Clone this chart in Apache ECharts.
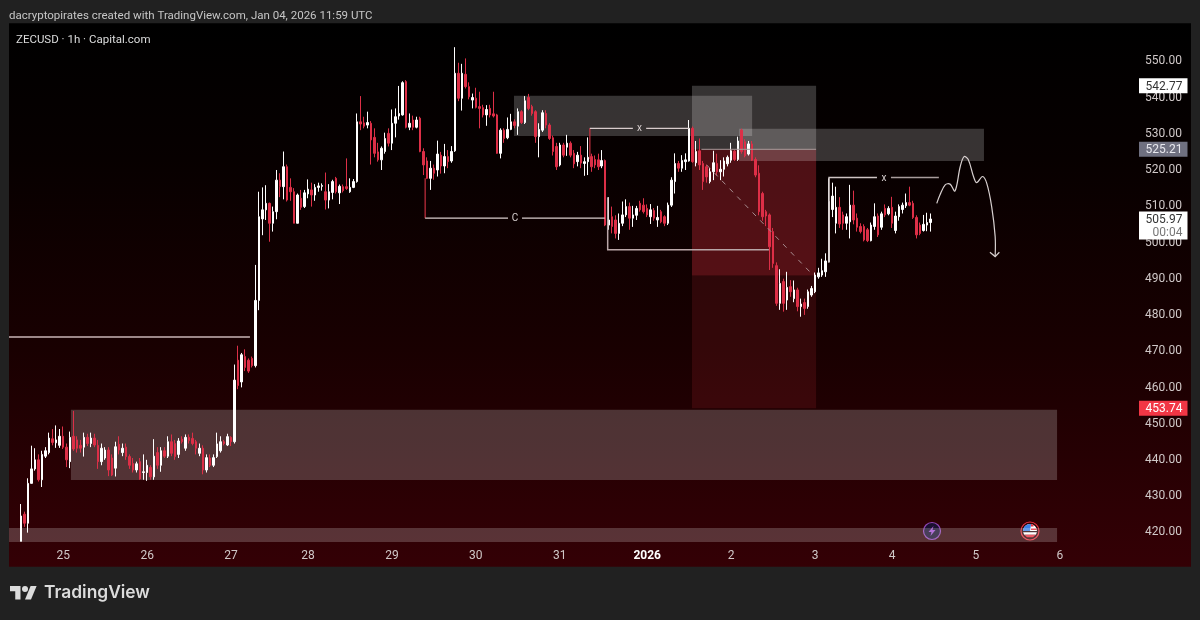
<!DOCTYPE html>
<html lang="en">
<head>
    <meta charset="UTF-8">
    <title>ZECUSD 1h</title>
    <style>
        html, body { margin: 0; padding: 0; background: #212121; }
        #chart { width: 1200px; height: 620px; }
    </style>
</head>
<body>
<div id="chart"></div>
<script src="https://cdn.jsdelivr.net/npm/echarts@6/dist/echarts.min.js"></script>
<script>
    // hour slots on the x axis, the day labels sit on some of them
    var hourSlots = 338;
    var firstCandleSlot = 3;
    var dayTickSlots = [15, 39, 63, 85, 109, 133, 157, 182, 206, 230, 252, 276, 300];
    var dayTickLabels = ['25', '26', '27', '28', '29', '30', '31', '2026', '2', '3', '4', '5', '6'];

    // candles per day, each one [open, close, low, high]
    var dec24 = [[417,424,417,427.3],[424.5,422,421,425.2],[422,433,419.4,434.4],[433,437,433,443.4],[437,439.5,436.5,442.7],[439.5,434,433.5,441],[434,441,432,442],[440.5,442,440,443],[441.5,445.5,441,447],[445.3,444.3,443.5,448],[444.2,445,442.8,449],[443.5,446,442.8,448]];
    var dec25 = [[446,443,442.5,448.7],[443,439.5,437.5,444],[439,445.7,437.2,447.3],[446,442.5,442,453],[445,442.7,441.5,446],[443.5,442.7,441.5,445],[443,445.7,440.4,447],[445.7,444,443.3,446.7],[444,445.5,443,447],[445.5,443.6,443,446.7],[443.5,439,437,445],[439,442.7,438,444],[440,442.2,439.5,443],[442.2,436.7,435,443],[440,435.3,435,441],[437.2,443.1,434.9,444.5],[443.8,442.2,441,446],[441.5,442.7,440.5,444],[443,440.4,439.5,444],[440.4,438,437,441],[438.5,436.7,436,440],[436.7,438.4,436,439],[439,434.2,434,440],[436,436.2,434,441]];
    var dec26 = [[436,438,433.7,439.5],[437.4,434.8,434,438],[434.8,440.5,434,445.2],[441.5,438,437,443],[438,442,436.2,443],[442,440.5,440,443],[440.5,444.5,440,446],[444.5,441.3,440.5,446.5],[444,440.4,439.5,445],[441,444.7,440,445.5],[445.2,444.5,444,446],[442.7,445.7,442,446.5],[445.7,444.8,444,446.5],[445.4,444,443.5,447],[444.5,442.7,441,445],[441.3,442.7,440.5,444],[442.7,436.7,435.5,443.5],[436.7,440.1,436,441],[440,438,437.5,441],[438,440.1,437.5,441],[440.4,443.9,440,447],[442,444.5,441.5,446],[444.5,444,443.5,445],[443.6,445.9,443.3,446.7]];
    var dec27 = [[445.7,444.5,443.3,446],[444.5,461.5,444,465.8],[467,460,459,471],[461,468.5,459.5,469],[468,465,464,470],[467,464,463.5,467.5],[467.5,465.5,465,468],[465.5,483.5,465,493.3],[483.5,506.6,480.8,513.5],[506,508.5,501.5,514.7],[508.5,510.3,505.7,515.3],[510.3,504.8,499.7,510.5],[504.8,508,502.5,509.4],[508,516.7,505.9,519.5],[516.7,514.9,512,518.6],[514.9,520.4,511.4,524.6],[520.4,511.2,510.8,521],[514.7,513.5,511,517.2],[513.5,504.8,504.8,514.5],[504.8,512.6,504.8,513],[511.7,509.2,508.5,514],[509.4,513.2,509,514]];
    var dec28 = [[512.9,514.2,511.7,516.9],[514,512.6,509.4,516],[512.6,514.7,511,515.6],[514.7,515.1,513.5,516],[515,515.2,513.8,515.8],[513.5,511.2,508.6,518.8],[511.2,513.5,508.9,515.6],[513.3,516.3,511.4,516.8],[517.2,513.5,513,517.6],[513.2,515,510.1,515.5],[514.9,513.8,513.3,515.5],[514.9,514.4,514,522.7],[513.5,514.7,513.2,517.2],[514.7,516.3,514.5,517],[516.3,532.8,516,535.1],[532.8,532.2,530.5,539.9],[532.5,531.6,531,534.2],[531.9,532.6,531,535.6],[532.4,527.8,521,533],[528.5,524.1,523,531],[524.5,522.3,521.8,527],[522.3,525.5,519.5,526],[524.6,528.2,524,529.8],[529.6,526.9,526,531]];
    var dec29 = [[526.9,532.4,525,536.2],[532.4,534.2,528.5,536.5],[534.4,535.1,533.4,542.7],[534.7,543.6,534.5,544],[543.9,531.3,531,544.3],[531.3,532.4,530.5,535.1],[533.3,531.3,530.5,534.5],[531.3,533.3,531,534.2],[533.8,524.6,524.4,534.2],[524.6,520.9,518.1,525.5],[522,517.2,517,523],[517.2,520,514,522],[520,518.6,516.8,521],[519.5,523.9,517.7,527.6],[523.6,520.6,518.5,524.5],[520.6,523.2,518.6,526.7],[523.2,521.8,520,525],[522,524.6,521.5,526.1],[524.8,546.2,524.5,553.4],[546.2,539.3,538.5,549.1],[539.3,546.2,535.9,548.8],[545.9,542.5,542,550.3],[542.5,539.7,539,543.7],[538.8,539.5,536.5,540.6]];
    var dec30 = [[539.3,536.8,536.5,542.2],[537,536.5,531,541.1],[536.7,534.7,534,537.5],[534.7,536.2,531.7,537.4],[536.5,534.7,534,537.5],[535,534.4,534,541.1],[534.7,524.1,524,535],[524.1,530.5,522.7,531],[530.5,528.2,527,531],[528.4,530.7,528,534],[530.7,532.8,530.5,535],[532.8,531.8,531,533.5],[531.6,535.6,529.2,536.5],[535.6,532.6,532.2,536],[532.6,538.6,532.2,539.9],[539.5,536.5,536,540.5],[537,535.1,534.5,537.5],[535.6,528.7,527,536],[528.7,530.7,523,532.4],[530.5,535.3,530,536],[535.1,531.9,531,536],[531.9,528.2,527.8,532.4],[528.4,524.6,523.5,529],[526,520.4,519.5,527]];
    var dec31 = [[520.9,526.4,520.5,527],[526.4,523.6,523,527],[525.8,526.9,523.4,529.2],[526.9,523.6,523,527.4],[524.1,521.2,520,525],[521.8,523.6,520.5,524.5],[523.6,521.4,520,526.1],[521.3,521.8,517.9,523],[521.8,523,518.1,528.5],[523.2,520.4,519,524],[522.4,520.9,520,523.5],[522.3,520.4,519.5,524],[520.6,522.1,520,525],[522.1,504.3,504,522.4],[504.3,505.7,503,512],[506.6,503.9,502,509.4],[505.7,502,500.6,507],[502,504.8,500.2,507.5],[504.8,507.1,504,510.8],[507.1,509.4,506.5,511.4],[509.4,506.2,503,510.5],[506.2,507.1,503.8,509.6],[507,508.9,505.7,509.6],[510.3,508.5,508,511]];
    var jan01 = [[509.8,508,507.5,511.7],[508.9,507.1,506.5,510],[506.6,508.5,504.6,510.1],[508.3,506.2,505.5,509],[505.7,506.4,503.8,509.6],[508,505.2,504.8,508.5],[506.6,504.8,504,507],[504.8,509.8,504.3,510.5],[509.8,516.7,509.3,517.5],[516.3,521.3,513,524.1],[521.3,520,519,522],[520,522.1,519,523.6],[521.8,522.3,519.5,524.1],[522,531,521.8,533.3],[531,521.8,521.5,531.5],[521.5,524.6,520.5,527.5],[524.8,520.9,519.5,528.2],[521.3,516.3,514,522],[520.4,517.6,516,521],[516.3,519,515.8,520],[519,521.5,516.7,524.8],[521.3,519,518,524],[519,519.7,516.7,522.2],[519.7,522,517.7,523],[521.2,523,520.5,523.5]];
    var jan02 = [[522.2,524.8,521.5,527],[524.7,522.4,522,525],[522.4,527.5,522,528.7],[530.5,524.6,524,530.9],[527.3,523.4,523,528],[523.9,526.7,523.5,527.5],[526.7,522.2,522,527.5],[522.4,518.1,517.5,523],[518.6,508,507,520.8],[513,506.6,505.5,513.5],[508,506.8,504,508.5],[507.1,498.3,491.9,507.5],[502.5,493.7,492.5,503.5],[493.1,482.7,482,494],[482.7,488.2,480.9,492.1],[488.7,482.7,480.4,489.5],[483.6,487.1,480.9,491.4],[487.3,485.9,484.5,489.1],[484,486.4,483,489],[486.4,481.8,480.5,487],[481.8,482.5,479,484],[482.9,481.3,479.5,484],[481.8,485.9,481.2,486.5],[485,486.8,484.5,487.5]];
    var jan03 = [[485.9,490.5,485.5,491.2],[490,491.1,489.5,492.5],[490.5,491.7,490,495],[491.4,494.4,490,496.5],[494.2,510.8,494,517.2],[508.6,512.3,506.5,516],[504.8,509.2,502,514.9],[509.2,504.6,503.5,512],[507.1,504.8,503,508],[504.8,506.6,503,507.5],[505.2,509.8,500.6,515.4],[509.8,505.7,504.5,513.8],[506.2,503.7,502.5,507.5],[503.9,502.5,502,504.8],[503.9,500.2,499.8,504.5],[503,500,499.6,503.5],[500,504.3,499.8,505],[503.9,506.6,503,510.3],[506.8,501.6,501,507.5],[503.7,507.4,503,508],[508.9,507.1,506.5,510],[507.4,508.9,507,509.5]];
    var jan04 = [[509.2,504.8,503.5,512.1],[502.8,506.8,502,508],[506.6,509.4,505.5,510],[508.6,509.8,507.5,510.5],[509.6,510.5,509,513],[510.5,509.8,509.5,514.9],[510.3,506.4,506,511],[506.4,501.6,500.6,507],[504.3,502,501.5,505],[502.8,504.5,502.5,507.1],[504.3,505,502.6,507.7],[505,505.97,502.5,507.5]];

    // zones on the drawing, [slot from, slot to, price low, price high]
    var redZones = [[195.3, 230.8, 453.74, 490.4], [195.3, 230.8, 490.4, 525.21]];
    var greyZones = [[17.7, 299.7, 433.9, 453.3], [0, 299.7, 416.8, 420.7], [144.4, 212.5, 528.9, 540], [195.3, 230.8, 525.21, 542.77], [208.8, 278.8, 522, 530.9]];

    // hand drawn lines as [slot, price] points
    var lineLeft = [[0, 473.4], [68.9, 473.4]];
    var lineCLeft = [[119, 517.2], [119, 506.2], [142.7, 506.2]];
    var lineCRight = [[146.7, 506.2], [170.4, 506.2]];
    var lineXLeft = [[166.1, 522.5], [166.1, 531], [178.4, 531]];
    var lineXRight = [[182.2, 531], [194.5, 531]];
    var lineLow = [[171.2, 512], [171.2, 497.5], [217.3, 497.5]];
    var lineRedTop = [[198, 525.21], [230.8, 525.21]];
    var lineX2Left = [[234.5, 494], [234.5, 517.4], [248.2, 517.4]];
    var lineX2Right = [[252.2, 517.4], [265.9, 517.4]];
    var pathDown = [[265.3, 510.3], [266.2, 512.6], [267.7, 515.4], [269.1, 515.6], [270.5, 513.7], [272, 520.4], [273.1, 523.2], [274.3, 522.4], [275.8, 517.7], [276.7, 516], [278.4, 517.7], [279.6, 515.8], [281, 509.4], [282, 501.1], [282, 495.6]];
    var pathArrow = [[280.5, 496.8], [282, 495.6], [283.2, 496.8]];
    var diagonal = [[199.5, 520.9], [229.9, 490.5]];

    var lineMarks = [[144.7, 506.2, 'C'], [180.3, 531, 'x'], [250.2, 517.4, 'x']];
    var priceTags = [542.77, 525.21, 505.97, 453.74];
    var countdown = '00:04';
    var titleText = 'dacryptopirates created with TradingView.com, Jan 04, 2026 11:59 UTC';
    var symbolText = 'ZECUSD · 1h · Capital.com';

    var fontName = 'Roboto, "Noto Sans", sans-serif';
    var up = '#ffffff';
    var down = '#dd2f47';

    var categories = [];
    for (var i = 0; i < hourSlots; i++) {
        var at = dayTickSlots.indexOf(i);
        categories.push(at >= 0 ? dayTickLabels[at] : '');
    }

    var candles = [];
    for (var b = 0; b < firstCandleSlot; b++) {
        candles.push(['-', '-', '-', '-']);
    }
    candles = candles.concat(dec24, dec25, dec26, dec27, dec28, dec29, dec30, dec31, jan01, jan02, jan03, jan04);

    function zoneItem(color) {
        return function (params, api) {
            var a = api.coord([api.value(0), api.value(3)]);
            var c = api.coord([api.value(1), api.value(2)]);
            return {
                type: 'rect',
                shape: {x: a[0], y: a[1], width: c[0] - a[0], height: c[1] - a[1]},
                style: {fill: color}
            };
        };
    }

    var drawn = [
        {pts: lineLeft, color: '#c9b4b6', width: 1.5},
        {pts: lineCLeft.slice(0, 2), color: '#c8303f', width: 1.2},
        {pts: lineCLeft.slice(1), color: '#d8cccc', width: 1.2},
        {pts: lineCRight, color: '#d8cccc', width: 1.2},
        {pts: lineXLeft.slice(0, 2), color: '#c8303f', width: 1.2},
        {pts: lineXLeft.slice(1), color: '#d8cccc', width: 1.2},
        {pts: lineXRight, color: '#d8cccc', width: 1.2},
        {pts: lineLow, color: '#b9a6a8', width: 1.5},
        {pts: lineRedTop, color: '#a89a9a', width: 1},
        {pts: lineX2Left, color: '#cfc4c4', width: 1.5},
        {pts: lineX2Right, color: '#a89c9c', width: 1.5},
        {pts: pathDown, color: '#d8d0d0', width: 1.2, smooth: 0.35},
        {pts: pathArrow, color: '#d8d0d0', width: 1.2},
        {pts: diagonal, color: '#a88d90', width: 1, dash: [5, 6]}
    ];

    var tagStyles = [
        {fill: '#ffffff', text: '#333333', h: 15},
        {fill: '#6f7080', text: '#e8e8ee', h: 15},
        {fill: '#ffffff', text: '#333333', h: 15},
        {fill: '#f23645', text: '#ffffff', h: 15}
    ];

    var chart = echarts.init(document.getElementById('chart'));
    var option = {
        animation: false,
        backgroundColor: '#212121',
        textStyle: {fontFamily: fontName},
        grid: {
            left: 9, right: 9, top: 23.27, bottom: 53.3,
            show: true,
            borderWidth: 0,
            backgroundColor: new echarts.graphic.LinearGradient(0, 0, 0, 1, [
                {offset: 0, color: '#000000'},
                {offset: 0.25, color: '#070000'},
                {offset: 0.6, color: '#190001'},
                {offset: 1, color: '#340005'}
            ])
        },
        xAxis: [{
            type: 'category',
            data: categories,
            boundaryGap: true,
            axisLine: {show: false},
            axisTick: {show: false},
            splitLine: {show: false},
            axisLabel: {
                inside: true,
                margin: 5,
                color: '#d0c8c8',
                fontSize: 12,
                fontFamily: fontName,
                interval: function (index) {
                    return dayTickSlots.indexOf(index) >= 0;
                },
                formatter: function (value) {
                    return value === '2026' ? '{b|2026}' : value;
                },
                rich: {b: {fontWeight: 'bold', color: '#ffffff', fontSize: 12, fontFamily: fontName}}
            }
        }, {
            type: 'value',
            min: 0,
            max: hourSlots,
            show: false,
            splitLine: {show: false}
        }],
        yAxis: {
            type: 'value',
            position: 'right',
            min: 410,
            max: 560,
            interval: 10,
            axisLine: {show: false},
            axisTick: {show: false},
            splitLine: {show: false},
            axisLabel: {
                inside: true,
                margin: 9,
                formatter: function (value) {
                    return value === 410 || value === 560 ? '' : '{p|' + value.toFixed(2) + '}';
                },
                rich: {p: {padding: [4, 0, 0, 0], color: '#d0c8c8', fontSize: 12, fontFamily: fontName}}
            }
        },
        series: [
            {
                type: 'custom', name: 'red zones', xAxisIndex: 1, z: 1, silent: true,
                data: redZones, renderItem: function (params, api) {
                    return zoneItem(params.dataIndex === 1 ? 'rgba(242,54,69,0.3)' : 'rgba(242,54,69,0.13)')(params, api);
                }
            },
            {
                type: 'custom', name: 'grey zones', xAxisIndex: 1, z: 2, silent: true,
                data: greyZones, renderItem: zoneItem('rgba(255,255,255,0.2)')
            },
            {
                type: 'candlestick', name: 'ZECUSD', z: 5, silent: true,
                data: candles,
                barWidth: 2,
                itemStyle: {color: up, color0: down, borderColor: up, borderColor0: down, borderWidth: 1}
            },
            {
                type: 'custom', name: 'drawings', xAxisIndex: 1, z: 6, silent: true,
                data: drawn.map(function (d) { return d.pts[0]; }),
                renderItem: function (params, api) {
                    var d = drawn[params.dataIndex];
                    return {
                        type: 'polyline',
                        shape: {points: d.pts.map(function (p) { return api.coord(p); }), smooth: d.smooth || 0},
                        style: {fill: null, stroke: d.color, lineWidth: d.width, lineDash: d.dash || null}
                    };
                }
            },
            {
                type: 'custom', name: 'marks', xAxisIndex: 1, z: 7, silent: true,
                data: lineMarks.map(function (m) { return [m[0], m[1]]; }),
                renderItem: function (params, api) {
                    var p = api.coord([api.value(0), api.value(1)]);
                    return {
                        type: 'text',
                        style: {
                            text: lineMarks[params.dataIndex][2], x: p[0], y: p[1] + 0.5,
                            fill: '#d8d0d0', font: '10px ' + fontName,
                            textAlign: 'center', textVerticalAlign: 'middle'
                        }
                    };
                }
            },
            {
                type: 'custom', name: 'price tags', xAxisIndex: 1, z: 20, silent: true,
                data: priceTags.map(function (v) { return [hourSlots, v]; }),
                renderItem: function (params, api) {
                    var p = api.coord([api.value(0), api.value(1)]);
                    var s = tagStyles[params.dataIndex];
                    var left = p[0] - 52;
                    var kids = [{
                        type: 'rect',
                        shape: {x: left, y: p[1] - 7.5, width: 48.5, height: params.dataIndex === 2 ? 28 : s.h},
                        style: {fill: s.fill}
                    }, {
                        type: 'text',
                        style: {
                            text: api.value(1).toFixed(2), x: left + 43.5, y: p[1] + 1,
                            fill: s.text, font: '12px ' + fontName,
                            textAlign: 'right', textVerticalAlign: 'middle'
                        }
                    }];
                    if (params.dataIndex === 2) {
                        kids.push({
                            type: 'text',
                            style: {
                                text: countdown, x: left + 43.5, y: p[1] + 14,
                                fill: '#777777', font: '12px ' + fontName,
                                textAlign: 'right', textVerticalAlign: 'middle'
                            }
                        });
                    }
                    return {type: 'group', children: kids};
                }
            }
        ],
        graphic: [
            {type: 'text', left: 9, top: 10, style: {text: titleText, fill: '#c6c6c6', font: '11.5px ' + fontName}},
            {type: 'text', left: 16, top: 34, z: 30, style: {text: symbolText, fill: '#dcdcdc', font: '11.5px ' + fontName}},
            // logo
            {
                type: 'group', x: 10, y: 583, scaleX: 0.75, scaleY: 0.75, children: [
                    {type: 'polygon', shape: {points: [[0, 4], [14, 4], [14, 22], [7, 22], [7, 11], [0, 11]]}, style: {fill: '#dcdcdc'}},
                    {type: 'polygon', shape: {points: [[27.5, 4], [35.5, 4], [28, 22], [20, 22]]}, style: {fill: '#dcdcdc'}},
                    {type: 'circle', shape: {cx: 20, cy: 8, r: 4}, style: {fill: '#dcdcdc'}}
                ]
            },
            {type: 'text', left: 44, top: 584, style: {text: 'TradingView', fill: '#dcdcdc', font: '600 17.4px Inter, sans-serif'}},
            // event badges on the time axis
            {
                type: 'group', x: 932, y: 531, z: 30, children: [
                    {type: 'circle', shape: {r: 8.5}, style: {fill: '#1b1030', stroke: '#8f45b5', lineWidth: 1.2}},
                    {type: 'polygon', shape: {points: [[1.5, -5], [-3.5, 1], [-0.5, 1], [-1.5, 5], [3.5, -1], [0.5, -1]]}, style: {fill: '#a04fd0'}}
                ]
            },
            {
                type: 'group', x: 1030, y: 531, z: 30, children: [
                    {type: 'circle', shape: {r: 9}, style: {fill: '#2a0508', stroke: '#e8303f', lineWidth: 1.2}},
                    {type: 'sector', shape: {r: 7, r0: 0, startAngle: Math.PI, endAngle: Math.PI * 2}, style: {fill: '#ffffff'}},
                    {type: 'sector', shape: {r: 7, r0: 0, startAngle: Math.PI, endAngle: Math.PI * 1.55}, style: {fill: '#3b82e6'}},
                    {type: 'polygon', shape: {points: [[1, -6.9], [3.5, -6], [3.5, -4.5], [1, -4.5]]}, style: {fill: '#e8303f'}},
                    {type: 'polygon', shape: {points: [[1, -2.6], [6.4, -2.6], [6.9, -1], [1, -1]]}, style: {fill: '#e8303f'}},
                    {type: 'polygon', shape: {points: [[-6.9, 1.2], [6.9, 1.2], [5.8, 3.8], [-5.8, 3.8]]}, style: {fill: '#ffffff'}},
                    {type: 'polygon', shape: {points: [[-5.8, 3.8], [5.8, 3.8], [3, 6.2], [-3, 6.2]]}, style: {fill: '#e8303f'}}
                ]
            }
        ]
    };
    chart.setOption(option);
</script>
</body>
</html>
